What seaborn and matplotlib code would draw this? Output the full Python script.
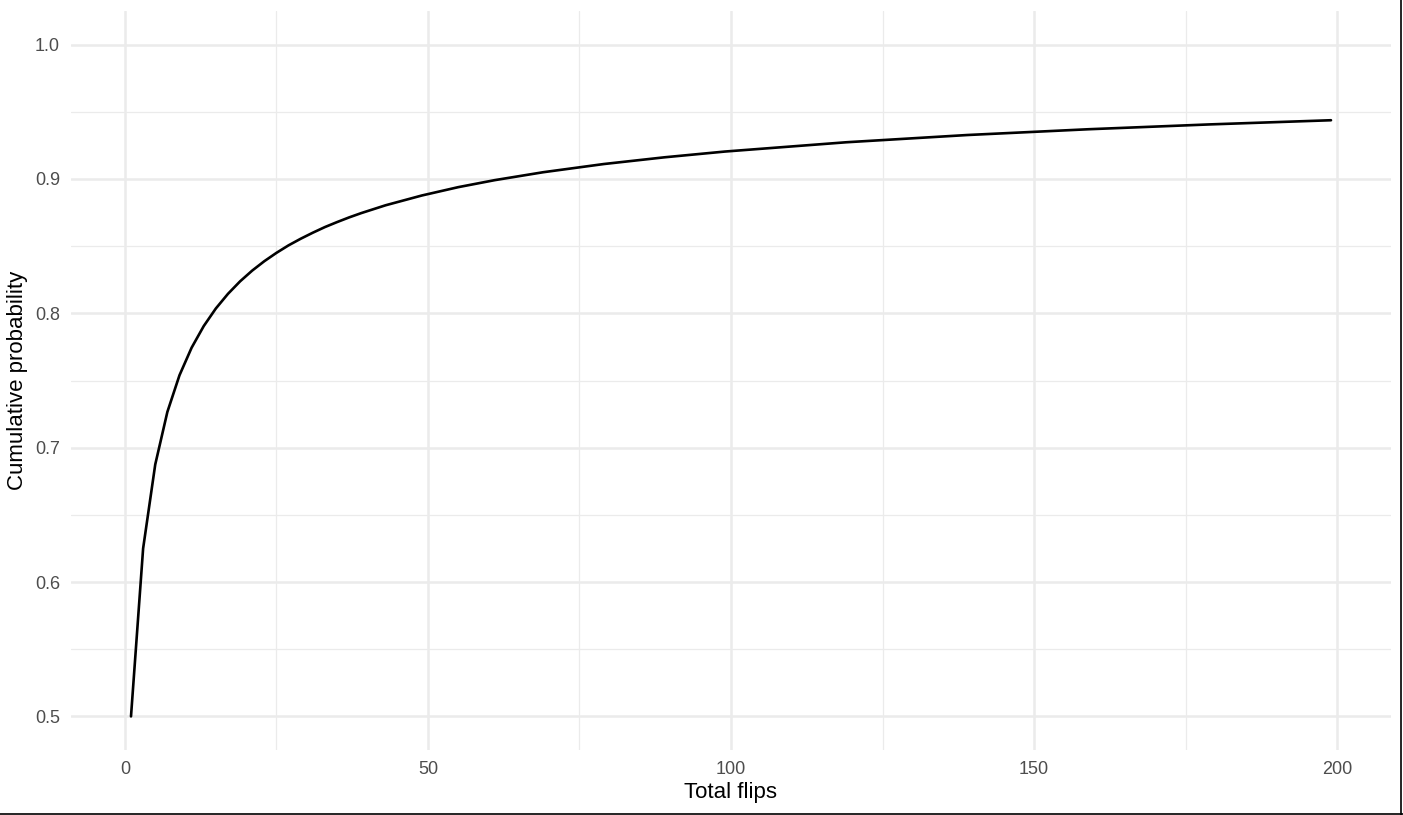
import seaborn as sns
import matplotlib.pyplot as plt
import pandas as pd
from matplotlib.lines import Line2D

# values (odd flip counts)
total_flips = [1, 3, 5, 7, 9, 11, 13, 15, 17, 19, 21, 23, 25, 27, 29, 31, 33, 35, 37, 39,
               43, 49, 55, 61, 69, 79, 89, 99, 119, 139, 159, 179, 199]
cum_prob = [0.5, 0.625, 0.6875, 0.7266, 0.7539, 0.7744, 0.7905, 0.8036, 0.8145, 0.8238,
            0.8318, 0.8388, 0.8450, 0.8506, 0.8555, 0.8600, 0.8642, 0.8679, 0.8714, 0.8746,
            0.8804, 0.8877, 0.8939, 0.8991, 0.9050, 0.9111, 0.9161, 0.9204, 0.9273, 0.9327,
            0.9370, 0.9406, 0.9437]
x_ticks = [0, 50, 100, 150, 200]
y_ticks = [0.5, 0.6, 0.7, 0.8, 0.9, 1.0]

df = pd.DataFrame({'flips': total_flips, 'prob': cum_prob})

sns.set_style('white')
plt.rcParams['font.family'] = ['Liberation Sans', 'DejaVu Sans']

fig = plt.figure(figsize=(14.03, 8.15), dpi=100)
ax = fig.add_axes([71 / 1403, 65 / 815, 1320 / 1403, 739 / 815])

# minor grid first
for xm in [25, 75, 125, 175]:
    ax.axvline(xm, color='#EBEBEB', lw=0.9, zorder=0)
for ym in [0.55, 0.65, 0.75, 0.85, 0.95]:
    ax.axhline(ym, color='#EBEBEB', lw=0.9, zorder=0)
for xm in x_ticks:
    ax.axvline(xm, color='#EBEBEB', lw=1.8, zorder=0)
for ym in y_ticks:
    ax.axhline(ym, color='#EBEBEB', lw=1.8, zorder=0)

sns.lineplot(data=df, x='flips', y='prob', color='black', linewidth=1.9, ax=ax, zorder=3)

ax.set_xlim(-8.9, 208.9)
ax.set_ylim(0.475, 1.025)
ax.set_xticks(x_ticks)
ax.set_xticklabels([str(v) for v in x_ticks])
ax.set_yticks(y_ticks)
ax.set_yticklabels([f'{v:.1f}' for v in y_ticks])
ax.tick_params(length=0, labelsize=13, labelcolor='#4D4D4D', pad=8)
for s in ax.spines.values():
    s.set_visible(False)
ax.set_xlabel('Total flips', fontsize=16, color='black', labelpad=3)
ax.set_ylabel('Cumulative probability', fontsize=16, color='black', labelpad=5)

# outer frame lines on bottom and right edges
fig.add_artist(Line2D([0, 1], [1.5 / 815, 1.5 / 815], transform=fig.transFigure, color='black', lw=1.2))
fig.add_artist(Line2D([1401 / 1403, 1401 / 1403], [0, 1], transform=fig.transFigure, color='black', lw=1.2))

plt.savefig('out.png', dpi=100)
